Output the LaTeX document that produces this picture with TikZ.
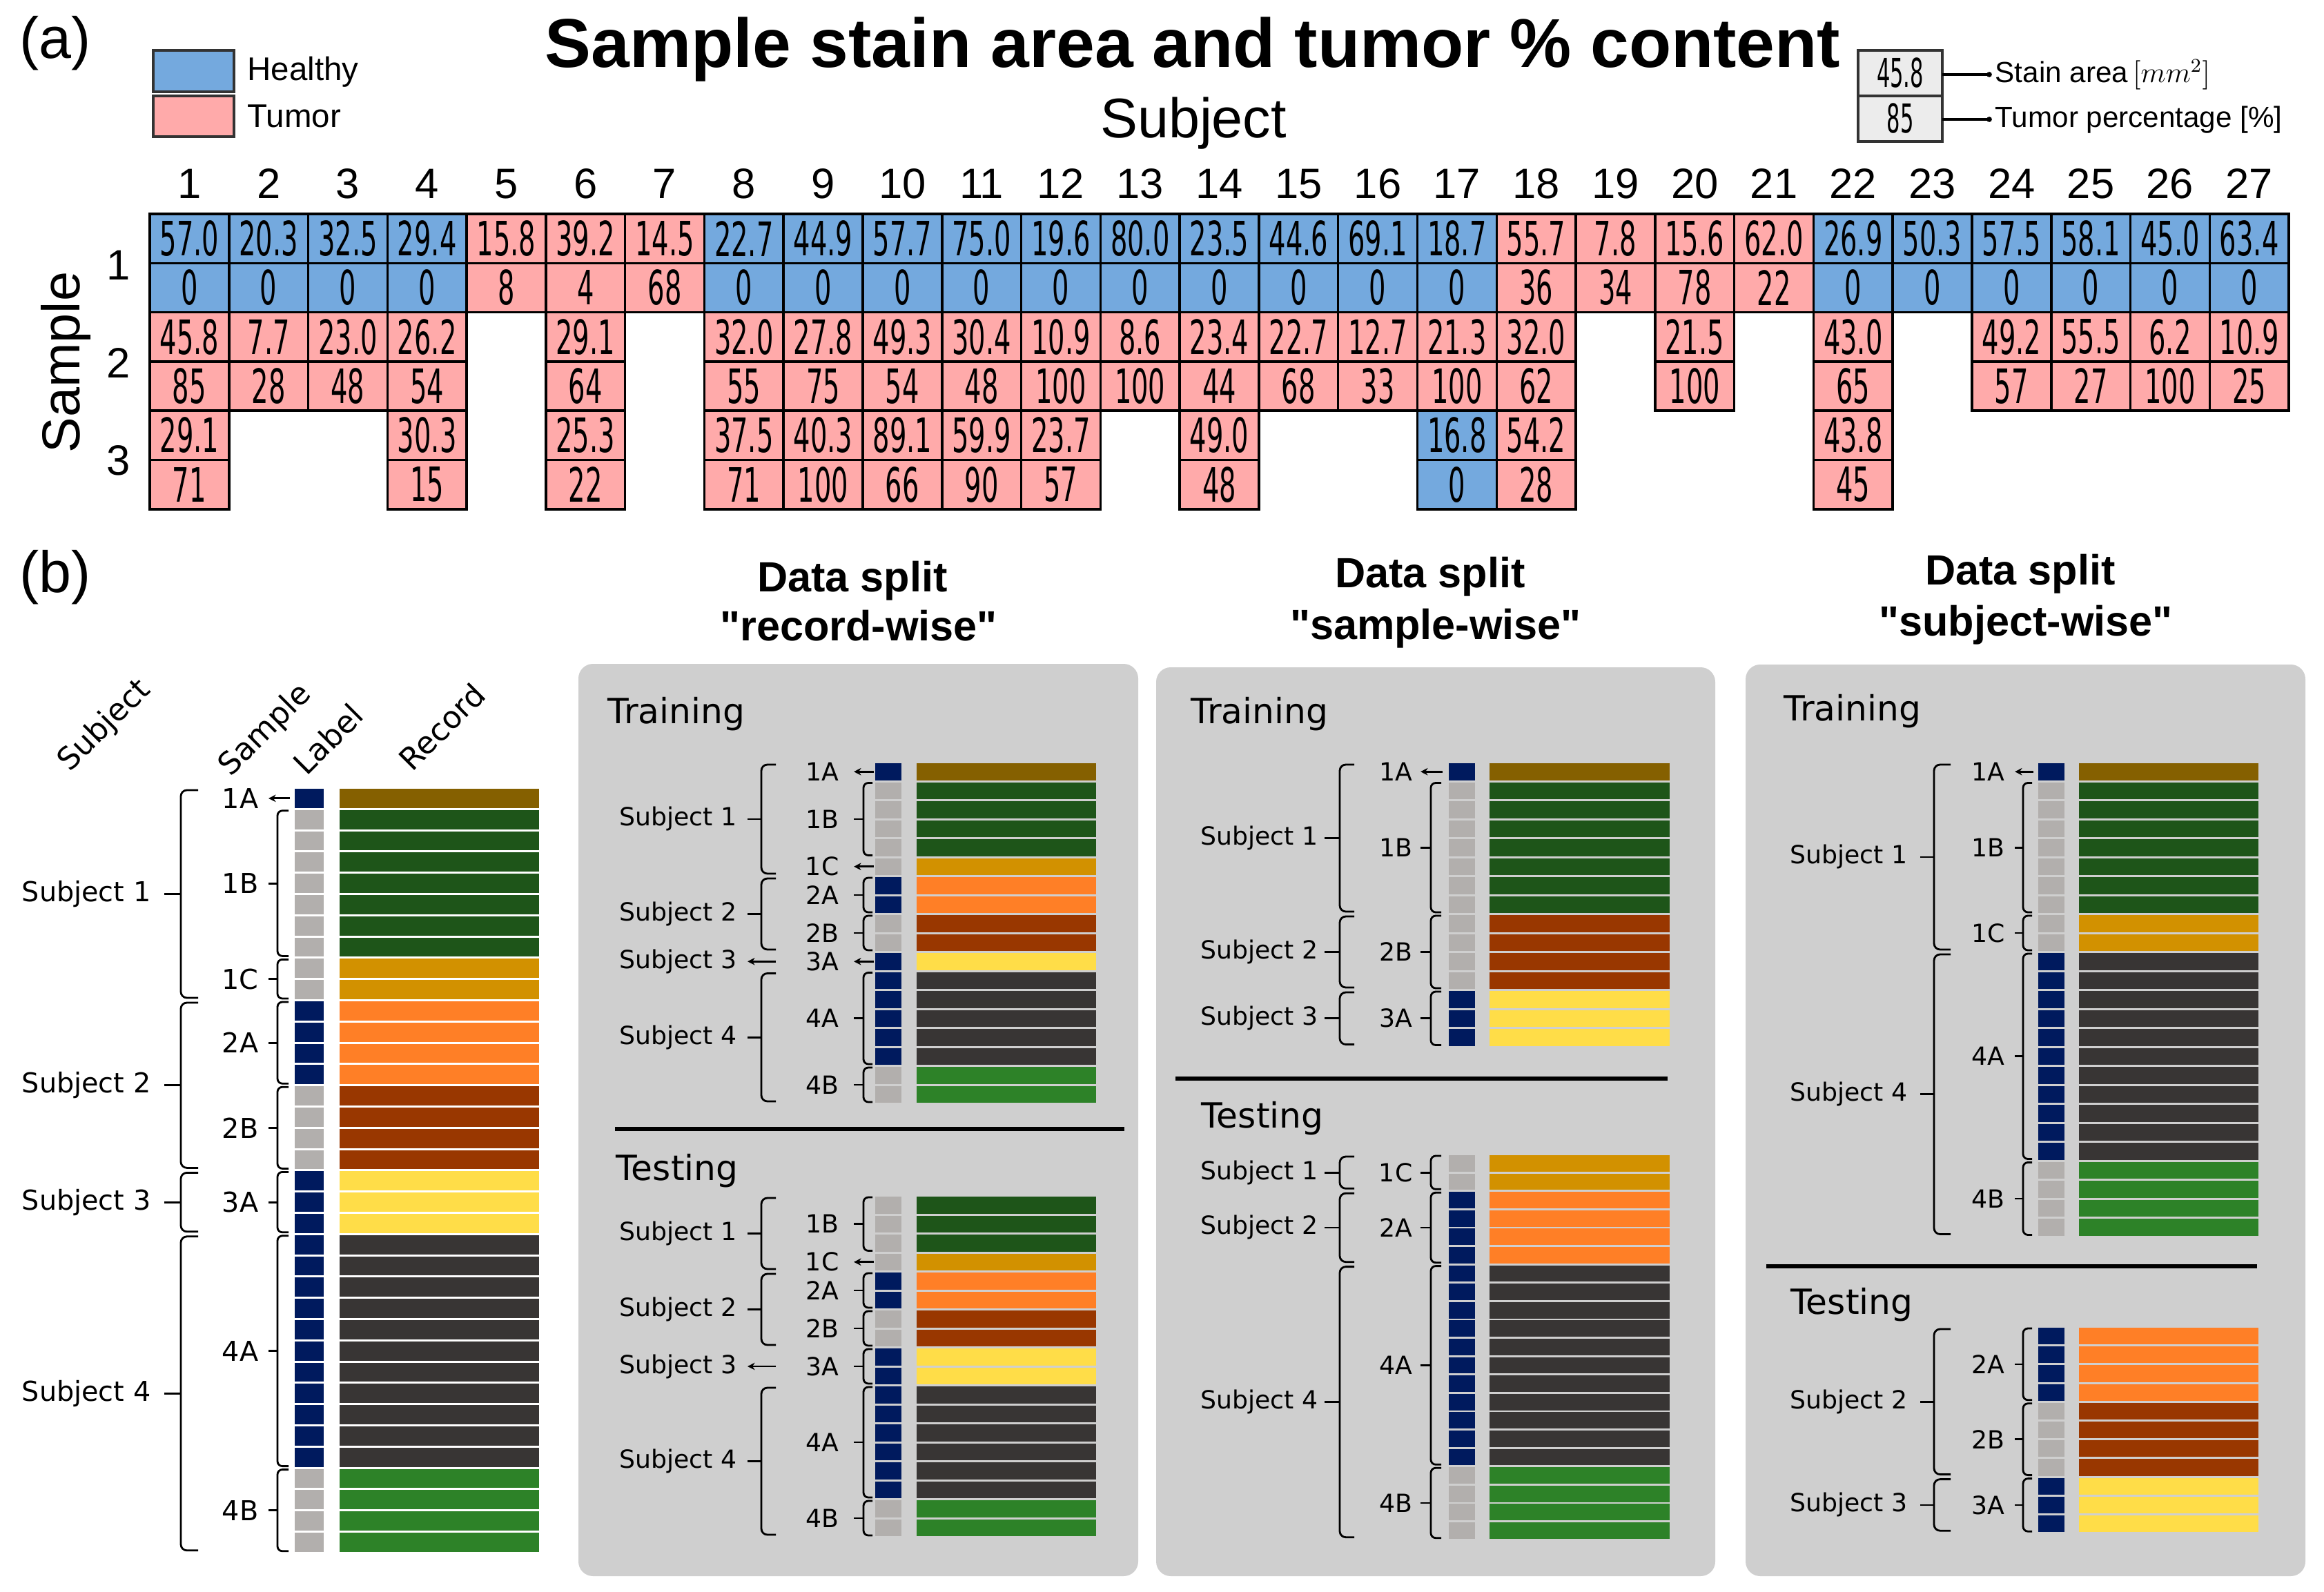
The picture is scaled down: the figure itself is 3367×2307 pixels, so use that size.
\documentclass[tikz,border=0pt]{standalone}
\usepackage{fontspec}
\setmainfont{Liberation Sans}
\newfontfamily\djv{DejaVu Sans}
\newfontfamily\hq{Liberation Sans}[Ligatures=TeXOff]
\usetikzlibrary{arrows.meta}
\definecolor{hb}{RGB}{116,169,222}
\definecolor{tp}{RGB}{255,170,170}
\definecolor{lgc}{RGB}{236,236,236}
\definecolor{navy}{RGB}{0,26,94}
\definecolor{lgr}{RGB}{178,175,173}
\definecolor{recA}{RGB}{133,96,0}
\definecolor{recB}{RGB}{30,85,25}
\definecolor{recC}{RGB}{210,145,0}
\definecolor{recD}{RGB}{255,127,38}
\definecolor{recE}{RGB}{153,55,0}
\definecolor{recF}{RGB}{255,221,72}
\definecolor{recG}{RGB}{56,53,52}
\definecolor{recH}{RGB}{45,130,40}
\definecolor{panelc}{RGB}{207,207,207}
\newcommand\fs[1]{\fontsize{#1}{#1}\selectfont}
\newcount\nodecnt
% table cell: col,row,stain,pct,color
\newcommand\tcell[5]{%
  \pgfmathsetmacro\xa{217+(#1-1)*114.78}%
  \pgfmathsetmacro\xb{\xa+114.78}%
  \pgfmathsetmacro\xc{\xa+57.39}%
  \pgfmathsetmacro\ya{310+(#2-1)*142.6}%
  \pgfmathsetmacro\ym{\ya+71.3}%
  \pgfmathsetmacro\yb{\ym+71.3}%
  \draw[cellbd,fill=#5] (\xa,\ya) rectangle (\xb,\ym);
  \draw[cellbd,fill=#5] (\xa,\ym) rectangle (\xb,\yb);
  \node[cnum] (t#1r#2s) at (\xc,{(\ya+\ym)/2}) {\scalebox{0.56}[1]{#3}};
  \node[cnum] (t#1r#2p) at (\xc,{(\ym+\yb)/2}) {\scalebox{0.56}[1]{#4}};
}
% bars: startrow,count,labelcolor,recordcolor
\newcommand\bars[4]{%
  \foreach \k in {1,...,#2}{%
    \pgfmathsetmacro\ya{\Yz+(#1+\k-1)*\Pit}%
    \pgfmathsetmacro\yb{\ya+\Hgt}%
    \fill[#3] (\LA,\ya) rectangle (\LB,\yb);
    \fill[#4] (\RA,\ya) rectangle (\RB,\yb);
  }}
% sample bracket
\newcommand\sbr[3]{%
  \pgfmathsetmacro\ya{\Yz+#1*\Pit+1}%
  \pgfmathsetmacro\yb{\Yz+#2*\Pit+\Hgt-1}%
  \pgfmathsetmacro\ym{(\ya+\yb)/2}%
  \global\advance\nodecnt by 1
  \draw[brk,rounded corners=2pt] (\SR,\ya) -- (\SX,\ya) -- (\SX,\yb) -- (\SR,\yb);
  \draw[brk] (\SX,\ym) -- (\ST,\ym);
  \node[slab,anchor=east] (S\the\nodecnt) at (\SL,\ym) {#3};
}
\newcommand\sar[3]{%
  \pgfmathsetmacro\ya{\Yz+#1*\Pit}%
  \pgfmathsetmacro\yb{\Yz+#2*\Pit+\Hgt}%
  \pgfmathsetmacro\ym{(\ya+\yb)/2}%
  \pgfmathsetmacro\xs{\SR+2}%
  \global\advance\nodecnt by 1
  \node[slab,anchor=east] (S\the\nodecnt) at (\SL,\ym) {#3};
  \coordinate (SA\the\nodecnt) at (\xs,\ym);
  \coordinate (SB\the\nodecnt) at (\ST,\ym);
  \draw[brk,-{Stealth[length=3pt,width=3pt]}] (SA\the\nodecnt) -- (SB\the\nodecnt);
}
% subject bracket
\newcommand\jbr[3]{%
  \pgfmathsetmacro\ya{\Yz+#1*\Pit+2}%
  \pgfmathsetmacro\yb{\Yz+#2*\Pit+\Hgt-2}%
  \pgfmathsetmacro\ym{(\ya+\yb)/2}%
  \global\advance\nodecnt by 1
  \draw[brk,rounded corners=2.5pt] (\JR,\ya) -- (\JX,\ya) -- (\JX,\yb) -- (\JR,\yb);
  \draw[brk] (\JX,\ym) -- (\JT,\ym);
  \node[slab,anchor=east] (J\the\nodecnt) at (\JL,\ym) {#3};
}
\newcommand\jar[3]{%
  \pgfmathsetmacro\ya{\Yz+#1*\Pit}%
  \pgfmathsetmacro\yb{\Yz+#2*\Pit+\Hgt}%
  \pgfmathsetmacro\ym{(\ya+\yb)/2}%
  \global\advance\nodecnt by 1
  \node[slab,anchor=east] (J\the\nodecnt) at (\JL,\ym) {#3};
  \coordinate (JA\the\nodecnt) at (\JR,\ym);
  \coordinate (JB\the\nodecnt) at (\JT,\ym);
  \draw[brk,-{Stealth[length=3pt,width=3pt]}] (JA\the\nodecnt) -- (JB\the\nodecnt);
}
\begin{document}
\begin{tikzpicture}[x=0.01cm,y=-0.01cm,
  cellbd/.style={draw=black,line width=1pt},
  cnum/.style={inner sep=0,font=\djv\fs{19.5}},
  lgbox/.style={draw=black!80,line width=1.2pt},
  brk/.style={line width=0.8pt,line join=round},
  slab/.style={inner sep=0,font=\djv\fontsize{\lfs}{\lfs}\selectfont},
  hdr/.style={anchor=base,inner sep=0,font=\hq\bfseries\fs{17.4}},
  phead/.style={anchor=base west,inner sep=0,font=\djv\fs{14.3}},
  rhead/.style={inner sep=0,rotate=45,font=\djv\fs{12.7}},
  sepline/.style={line width=1.8pt}]
\useasboundingbox (0,0) rectangle (3367,2307);
\def\lfs{11.3}
% ---------------- (a) ----------------
\node[anchor=base west,inner sep=0,font=\fs{24}] (laba) at (28,85) {(a)};
\draw[lgbox,fill=hb] (222,73) rectangle (339,133);
\draw[lgbox,fill=tp] (222,139) rectangle (339,198);
\node[anchor=base west,inner sep=0,font=\fs{13.5}] (lgh) at (358,117) {Healthy};
\node[anchor=base west,inner sep=0,font=\fs{13.5}] (lgt) at (358,185) {Tumor};
\node[anchor=base,inner sep=0,font=\bfseries\fs{28.5}] (title) at (1728,98) {Sample stain area and tumor \% content};
\node[anchor=base,inner sep=0,font=\fs{23}] (subjhdr) at (1729,200) {Subject};
\foreach \i in {1,...,27}
  \node[anchor=base,inner sep=0,font=\fs{17.5}] (cn\i) at ({217+(\i-0.5)*114.78},288) {\i};
\node[rotate=90,inner sep=0,font=\fs{22}] (samphdr) at (95,525) {Sample};
\node[inner sep=0,font=\fs{17.5}] (rn1) at (172,384) {1};
\node[inner sep=0,font=\fs{17.5}] (rn2) at (172,526) {2};
\node[inner sep=0,font=\fs{17.5}] (rn3) at (172,667) {3};
% stain legend
\draw[lgbox,fill=lgc] (2692,73) rectangle (2814,139);
\draw[lgbox,fill=lgc] (2692,139) rectangle (2814,205);
\node[inner sep=0,font=\djv\fs{16.4}] (lgs) at (2753,106) {\scalebox{0.53}[1]{45.8}};
\node[inner sep=0,font=\djv\fs{16.4}] (lgp) at (2753,172) {\scalebox{0.53}[1]{85}};
\coordinate (d1) at (2882,108);
\coordinate (d2) at (2882,173);
\draw[line width=1.1pt] (2814,108) -- (d1);
\draw[line width=1.1pt] (2814,173) -- (d2);
\fill (d1) circle[radius=1.1pt];
\fill (d2) circle[radius=1.1pt];
\node[anchor=base west,inner sep=0,font=\fs{12}] (lgst) at (2890,120) {Stain area\,$[mm^2]$};
\node[anchor=base west,inner sep=0,font=\fs{12}] (lgtp) at (2890,185) {Tumor percentage [\%]};
% table
\foreach \cc/\ss/\pp/\kk in {1/57.0/0/hb,2/20.3/0/hb,3/32.5/0/hb,4/29.4/0/hb,5/15.8/8/tp,6/39.2/4/tp,7/14.5/68/tp,8/22.7/0/hb,9/44.9/0/hb,10/57.7/0/hb,11/75.0/0/hb,12/19.6/0/hb,13/80.0/0/hb,14/23.5/0/hb,15/44.6/0/hb,16/69.1/0/hb,17/18.7/0/hb,18/55.7/36/tp,19/7.8/34/tp,20/15.6/78/tp,21/62.0/22/tp,22/26.9/0/hb,23/50.3/0/hb,24/57.5/0/hb,25/58.1/0/hb,26/45.0/0/hb,27/63.4/0/hb}
  {\tcell{\cc}{1}{\ss}{\pp}{\kk}}
\foreach \cc/\ss/\pp in {1/45.8/85,2/7.7/28,3/23.0/48,4/26.2/54,6/29.1/64,8/32.0/55,9/27.8/75,10/49.3/54,11/30.4/48,12/10.9/100,13/8.6/100,14/23.4/44,15/22.7/68,16/12.7/33,17/21.3/100,18/32.0/62,20/21.5/100,22/43.0/65,24/49.2/57,25/55.5/27,26/6.2/100,27/10.9/25}
  {\tcell{\cc}{2}{\ss}{\pp}{tp}}
\foreach \cc/\ss/\pp/\kk in {1/29.1/71/tp,4/30.3/15/tp,6/25.3/22/tp,8/37.5/71/tp,9/40.3/100/tp,10/89.1/66/tp,11/59.9/90/tp,12/23.7/57/tp,14/49.0/48/tp,17/16.8/0/hb,18/54.2/28/tp,22/43.8/45/tp}
  {\tcell{\cc}{3}{\ss}{\pp}{\kk}}
% ---------------- (b) ----------------
\node[anchor=base west,inner sep=0,font=\fs{24}] (labb) at (28,859) {(b)};
\node[hdr] (h1a) at (1235,857) {Data split};
\node[hdr] (h1b) at (1244,929) {"record-wise"};
\node[hdr] (h2a) at (2072,852) {Data split};
\node[hdr] (h2b) at (2080,926) {"sample-wise"};
\node[hdr] (h3a) at (2927,848) {Data split};
\node[hdr] (h3b) at (2935,922) {"subject-wise"};
% panels
\fill[panelc,rounded corners=6pt] (838,962) rectangle (1649,2284);
\fill[panelc,rounded corners=6pt] (1675,967) rectangle (2485,2284);
\fill[panelc,rounded corners=6pt] (2529,963) rectangle (3340,2284);
\node[phead] (tr1) at (880,1048) {Training};
\node[phead] (te1) at (892,1710) {Testing};
\node[phead] (tr2) at (1725,1048) {Training};
\node[phead] (te2) at (1740,1634) {Testing};
\node[phead] (tr3) at (2584,1044) {Training};
\node[phead] (te3) at (2594,1904) {Testing};
\draw[sepline] (891,1636) -- (1629,1636);
\draw[sepline] (1703,1563) -- (2416,1563);
\draw[sepline] (2559,1835) -- (3270,1835);
% left headers
\node[rhead] (hsub) at (152,1052) {Subject};
\node[rhead] (hsam) at (385,1059) {Sample};
\node[rhead] (hlab) at (475,1071) {Label};
\node[rhead] (hrec) at (640,1053) {Record};
% ---- left chart ----
\def\LA{427}\def\LB{469}\def\RA{492}\def\RB{781}\def\Yz{1143}\def\Pit{30.8}\def\Hgt{27.8}
\def\SX{402}\def\SR{418}\def\ST{389}\def\SL{375}
\def\JX{262}\def\JR{287}\def\JT{238}\def\JL{219}
\def\lfs{11.3}
\bars{0}{1}{navy}{recA}
\bars{1}{7}{lgr}{recB}
\bars{8}{2}{lgr}{recC}
\bars{10}{4}{navy}{recD}
\bars{14}{4}{lgr}{recE}
\bars{18}{3}{navy}{recF}
\bars{21}{11}{navy}{recG}
\bars{32}{4}{lgr}{recH}
\sar{0}{0}{1A}
\sbr{1}{7}{1B}
\sbr{8}{9}{1C}
\sbr{10}{13}{2A}
\sbr{14}{17}{2B}
\sbr{18}{20}{3A}
\sbr{21}{31}{4A}
\sbr{32}{35}{4B}
\jbr{0}{9}{Subject 1}
\jbr{10}{17}{Subject 2}
\jbr{18}{20}{Subject 3}
\jbr{21}{35}{Subject 4}
% ---- panel 1 training ----
\def\LA{1268}\def\LB{1306}\def\RA{1328}\def\RB{1588}\def\Yz{1106}\def\Pit{27.5}\def\Hgt{24.5}
\def\SX{1251}\def\SR{1264}\def\ST{1237}\def\SL{1216}
\def\JX{1103}\def\JR{1124}\def\JT{1083}\def\JL{1068}
\def\lfs{10.3}
\bars{0}{1}{navy}{recA}
\bars{1}{4}{lgr}{recB}
\bars{5}{1}{lgr}{recC}
\bars{6}{2}{navy}{recD}
\bars{8}{2}{lgr}{recE}
\bars{10}{1}{navy}{recF}
\bars{11}{5}{navy}{recG}
\bars{16}{2}{lgr}{recH}
\sar{0}{0}{1A}
\sbr{1}{4}{1B}
\sar{5}{5}{1C}
\sbr{6}{7}{2A}
\sbr{8}{9}{2B}
\sar{10}{10}{3A}
\sbr{11}{15}{4A}
\sbr{16}{17}{4B}
\jbr{0}{5}{Subject 1}
\jbr{6}{9}{Subject 2}
\jar{10}{10}{Subject 3}
\jbr{11}{17}{Subject 4}
% ---- panel 1 testing ----
\def\Yz{1734}
\bars{0}{3}{lgr}{recB}
\bars{3}{1}{lgr}{recC}
\bars{4}{2}{navy}{recD}
\bars{6}{2}{lgr}{recE}
\bars{8}{2}{navy}{recF}
\bars{10}{6}{navy}{recG}
\bars{16}{2}{lgr}{recH}
\sbr{0}{2}{1B}
\sar{3}{3}{1C}
\sbr{4}{5}{2A}
\sbr{6}{7}{2B}
\sbr{8}{9}{3A}
\sbr{10}{15}{4A}
\sbr{16}{17}{4B}
\jbr{0}{3}{Subject 1}
\jbr{4}{7}{Subject 2}
\jar{8}{9}{Subject 3}
\jbr{10}{17}{Subject 4}
% ---- panel 2 training ----
\def\LA{2099}\def\LB{2137}\def\RA{2158}\def\RB{2419}\def\Yz{1106}\def\Pit{27.5}\def\Hgt{24.5}
\def\SX{2073}\def\SR{2088}\def\ST{2058}\def\SL{2047}
\def\JX{1941}\def\JR{1962}\def\JT{1919}\def\JL{1910}
\bars{0}{1}{navy}{recA}
\bars{1}{7}{lgr}{recB}
\bars{8}{4}{lgr}{recE}
\bars{12}{3}{navy}{recF}
\sar{0}{0}{1A}
\sbr{1}{7}{1B}
\sbr{8}{11}{2B}
\sbr{12}{14}{3A}
\jbr{0}{7}{Subject 1}
\jbr{8}{11}{Subject 2}
\jbr{12}{14}{Subject 3}
% ---- panel 2 testing ----
\def\Yz{1674}\def\Pit{26.6}\def\Hgt{23.7}
\bars{0}{2}{lgr}{recC}
\bars{2}{4}{navy}{recD}
\bars{6}{11}{navy}{recG}
\bars{17}{4}{lgr}{recH}
\sbr{0}{1}{1C}
\sbr{2}{5}{2A}
\sbr{6}{16}{4A}
\sbr{17}{20}{4B}
\jbr{0}{1}{Subject 1}
\jbr{2}{5}{Subject 2}
\jbr{6}{20}{Subject 4}
% ---- panel 3 training ----
\def\LA{2953}\def\LB{2991}\def\RA{3012}\def\RB{3272}\def\Yz{1106}\def\Pit{27.5}\def\Hgt{24.5}
\def\SX{2931}\def\SR{2944}\def\ST{2919}\def\SL{2905}
\def\JX{2802}\def\JR{2826}\def\JT{2782}\def\JL{2764}
\bars{0}{1}{navy}{recA}
\bars{1}{7}{lgr}{recB}
\bars{8}{2}{lgr}{recC}
\bars{10}{11}{navy}{recG}
\bars{21}{4}{lgr}{recH}
\sar{0}{0}{1A}
\sbr{1}{7}{1B}
\sbr{8}{9}{1C}
\sbr{10}{20}{4A}
\sbr{21}{24}{4B}
\jbr{0}{9}{Subject 1}
\jbr{10}{24}{Subject 4}
% ---- panel 3 testing ----
\def\Yz{1924}\def\Pit{27.2}\def\Hgt{24.2}
\bars{0}{4}{navy}{recD}
\bars{4}{4}{lgr}{recE}
\bars{8}{3}{navy}{recF}
\sbr{0}{3}{2A}
\sbr{4}{7}{2B}
\sbr{8}{10}{3A}
\jbr{0}{7}{Subject 2}
\jbr{8}{10}{Subject 3}
\end{tikzpicture}
\end{document}
